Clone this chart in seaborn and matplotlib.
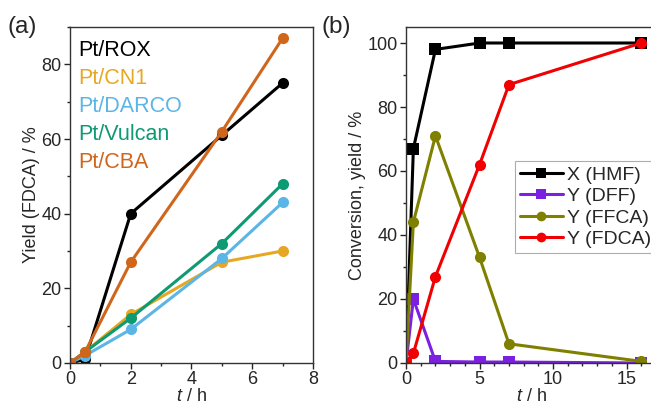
import matplotlib
matplotlib.use("Agg")
import matplotlib.pyplot as plt
import seaborn as sns
import pandas as pd
from matplotlib.ticker import MultipleLocator
from matplotlib.lines import Line2D

sns.set_theme(style="ticks")
plt.rcParams['font.family'] = ['Liberation Sans', 'DejaVu Sans']
plt.rcParams['mathtext.fontset'] = 'custom'
plt.rcParams['mathtext.it'] = 'Liberation Sans:italic'

# Panel (a) data
t_a = [0, 0.5, 2, 5, 7]
catalysts = ["Pt/ROX", "Pt/CN1", "Pt/DARCO", "Pt/Vulcan", "Pt/CBA"]
rox = [0, 1, 40, 61, 75]
cn1 = [0, 3, 13, 27, 30]
darco = [0, 2, 9, 28, 43]
vulcan = [0, 3, 12, 32, 48]
cba = [0, 3, 27, 62, 87]
colors_a = ["#000000", "#E6A823", "#5BB5E5", "#0E9A72", "#D0661C"]

# Panel (b) data
t_b = [0, 0.5, 2, 5, 7, 16]
species = ["X (HMF)", "Y (DFF)", "Y (FFCA)", "Y (FDCA)"]
hmf = [0, 67, 98, 100, 100, 100]
dff = [0, 20, 0.5, 0.3, 0.3, 0]
ffca = [0, 44, 71, 33, 6, 0.5]
fdca = [0, 3, 27, 62, 87, 100]
colors_b = ["#000000", "#7B1FE0", "#7F7F00", "#F00000"]
markers_b = ["s", "s", "o", "o"]

FS = 13

fig = plt.figure(figsize=(6.51, 4.11), dpi=100)
ax1 = fig.add_axes([0.1075, 0.1168, 0.3733, 0.8175])
ax2 = fig.add_axes([0.6237, 0.1168, 0.384, 0.8175])

df_a = pd.DataFrame({
    "t": t_a * 5,
    "y": rox + cn1 + darco + vulcan + cba,
    "cat": sum([[c] * len(t_a) for c in catalysts], []),
})
sns.lineplot(data=df_a, x="t", y="y", hue="cat", palette=dict(zip(catalysts, colors_a)),
             marker="o", markersize=8, markeredgewidth=0, linewidth=2.2,
             legend=False, ax=ax1, sort=False)
ax1.set_xlim(0, 8)
ax1.set_ylim(0, 90)
ax1.xaxis.set_major_locator(MultipleLocator(2))
ax1.xaxis.set_minor_locator(MultipleLocator(1))
ax1.yaxis.set_major_locator(MultipleLocator(20))
ax1.yaxis.set_minor_locator(MultipleLocator(10))
ax1.set_xlabel("$t$ / h", fontsize=FS, labelpad=0)
ax1.set_ylabel("Yield (FDCA) / %", fontsize=FS, labelpad=1)
for i, (c, col) in enumerate(zip(catalysts, colors_a)):
    ax1.text(0.035, 0.96 - i * 0.083, c, color=col, fontsize=15.5,
             transform=ax1.transAxes, va="top", ha="left")

df_b = pd.DataFrame({
    "t": t_b * 4,
    "y": hmf + dff + ffca + fdca,
    "sp": sum([[s] * len(t_b) for s in species], []),
})
sns.lineplot(data=df_b, x="t", y="y", hue="sp", style="sp",
             palette=dict(zip(species, colors_b)),
             markers=dict(zip(species, markers_b)), dashes=False,
             markersize=8, markeredgewidth=0, linewidth=2.2,
             legend=False, ax=ax2, sort=False)
ax2.set_xlim(0, 17)
ax2.set_ylim(0, 105)
ax2.xaxis.set_major_locator(MultipleLocator(5))
ax2.xaxis.set_minor_locator(MultipleLocator(1))
ax2.yaxis.set_major_locator(MultipleLocator(20))
ax2.yaxis.set_minor_locator(MultipleLocator(10))
ax2.set_xlabel("$t$ / h", fontsize=FS, labelpad=0)
ax2.set_ylabel("Conversion, yield / %", fontsize=FS, labelpad=1)

handles = [Line2D([], [], color=c, marker=m, markersize=7, linewidth=2.2, markeredgewidth=0)
           for c, m in zip(colors_b, markers_b)]
leg = ax2.legend(handles, species, loc="upper left", bbox_to_anchor=(0.436, 0.601),
                 fontsize=14, frameon=True, fancybox=False, handlelength=2.2,
                 handletextpad=0.2, labelspacing=0.2, borderpad=0.25, borderaxespad=0)
leg.get_frame().set_edgecolor("#999999")
leg.get_frame().set_linewidth(0.8)

for ax in (ax1, ax2):
    for s in ax.spines.values():
        s.set_linewidth(1.0)
        s.set_color("#333333")
    ax.tick_params(axis="both", which="major", labelsize=FS, length=4, width=1,
                   direction="out", top=False, right=False, pad=2)
    ax.tick_params(axis="both", which="minor", length=2.5, width=1,
                   direction="out", top=False, right=False)

fig.text(0.012, 0.96, "(a)", fontsize=17.5, va="top", ha="left")
fig.text(0.494, 0.96, "(b)", fontsize=17.5, va="top", ha="left")

fig.savefig("out.png", dpi=100)
